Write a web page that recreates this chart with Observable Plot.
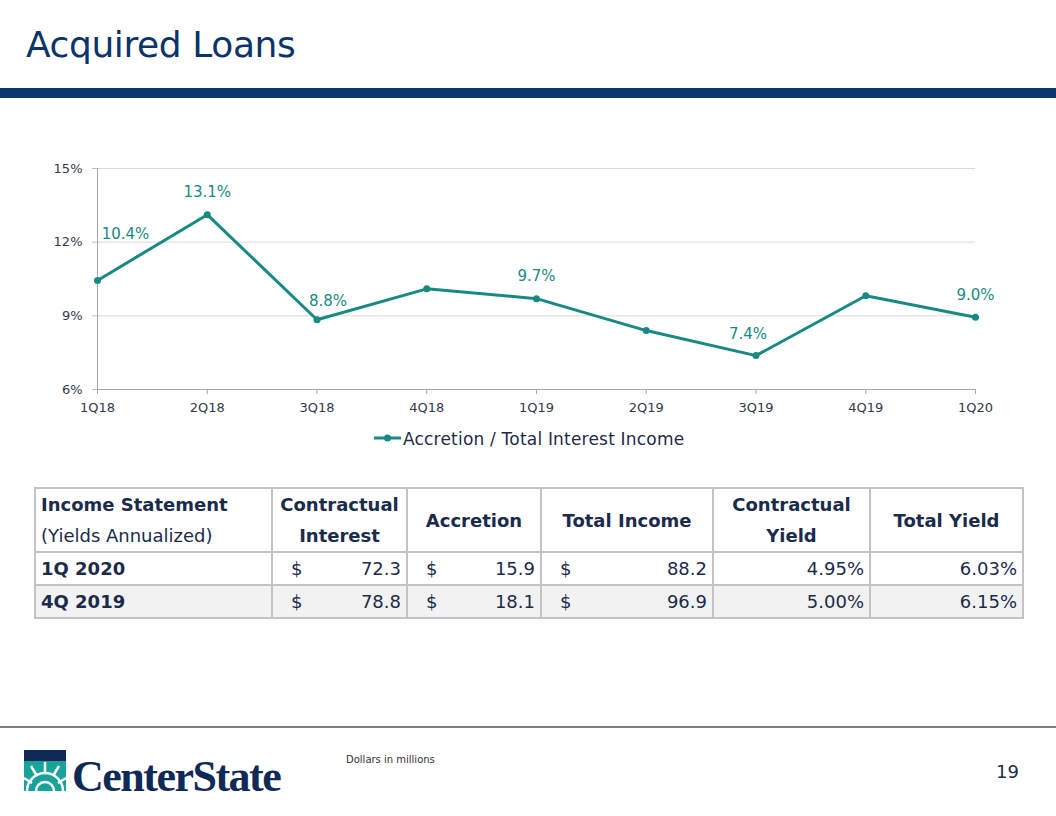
<!DOCTYPE html>
<html>
<head>
<meta charset="utf-8">
<script src="https://cdn.jsdelivr.net/npm/d3@7"></script>
<script src="https://cdn.jsdelivr.net/npm/@observablehq/plot@0.6"></script>
<style>
  html, body { margin:0; padding:0; background:#fff; }
  body { width:1056px; height:816px; position:relative; overflow:hidden; font-family:"DejaVu Sans", Verdana, sans-serif; }
  #title { position:absolute; left:26px; top:24px; font-size:36px; color:#0c3469; letter-spacing:-0.4px; }
  #bar { position:absolute; left:0; top:88px; width:1056px; height:10px; background:#0b3670; }
  #chart { position:absolute; left:0; top:150px; }
  #legend { position:absolute; left:374px; top:429px; font-size:17px; color:#1e2b48; white-space:nowrap; letter-spacing:0.2px; }
  #legend svg { vertical-align:middle; margin-right:2px; position:relative; top:-2px; }
  #tbl { position:absolute; left:34px; top:487px; border-collapse:collapse; table-layout:fixed; width:988px; font-size:18px; color:#1b2b4b; }
  #tbl td, #tbl th { border:2px solid #c3c3c3; padding:0 5px; overflow:hidden; white-space:nowrap; }
  #tbl th { font-weight:bold; height:62px; line-height:31px; }
  #tbl td { height:31px; }
  #tbl tr.alt td { background:#f2f2f2; }
  .money { display:flex; justify-content:space-between; padding-left:13px; }
  #rule { position:absolute; left:0; top:726px; width:1056px; height:2px; background:#808080; }
  #logo { position:absolute; left:24px; top:745px; }
  #note { position:absolute; left:346px; top:754px; font-size:10px; color:#333; }
  #page { position:absolute; left:996px; top:761px; font-size:18px; color:#1e2b48; }
</style>
</head>
<body>
<div id="title">Acquired Loans</div>
<div id="bar"></div>
<div id="chart"></div>
<div id="legend"></div>
<table id="tbl"></table>
<div id="rule"></div>
<div id="logo">
  <svg width="300" height="64">
    <g transform="translate(0,5)">
      <rect x="0" y="0" width="42" height="41" fill="#0f2a57"/>
      <rect x="0" y="11" width="42" height="30" fill="#17a39a"/>
      <path d="M3 41 A18 18 0 0 1 39 41" fill="none" stroke="#fff" stroke-width="2.5"/>
      <path d="M12 41 A9 9 0 0 1 30 41" fill="none" stroke="#fff" stroke-width="2.5"/>
      <path d="M21 23 L21 12 M13 26 L7 16 M29 26 L35 16 M8 33 L0 28 M34 33 L42 28" stroke="#fff" stroke-width="2.5"/>
      <text x="48" y="41" font-family="Liberation Serif, serif" font-weight="bold" font-size="44" fill="#0f2a57" letter-spacing="-1.5">CenterState</text>
    </g>
  </svg>
</div>
<div id="note">Dollars in millions</div>
<div id="page">19</div>
<script>
// ---- chart data ----
const quarters = ["1Q18","2Q18","3Q18","4Q18","1Q19","2Q19","3Q19","4Q19","1Q20"];
const accretionRatio = [10.44, 13.12, 8.84, 10.1, 9.7, 8.4, 7.38, 9.82, 8.94];
const pointLabels = ["10.4%","13.1%","8.8%",null,"9.7%",null,"7.4%",null,"9.0%"];
const yTicks = [6, 9, 12, 15];
const seriesName = "Accretion / Total Interest Income";

// ---- table data ----
const tableHeaders = ["Contractual\nInterest","Accretion","Total Income","Contractual\nYield","Total Yield"];
const periods = ["1Q 2020","4Q 2019"];
const contractualInterest = [72.3, 78.8];
const accretionIncome = [15.9, 18.1];
const totalIncome = [88.2, 96.9];
const contractualYield = [4.95, 5.00];
const totalYield = [6.03, 6.15];

const teal = "#178a82";
const rows = quarters.map((q, i) => ({q, v: accretionRatio[i], label: pointLabels[i]}));
const lab = (names) => rows.filter(d => names.includes(d.q));

const chart = Plot.plot({
  width: 1056, height: 280,
  marginLeft: 97, marginRight: 81, marginTop: 18, marginBottom: 41,
  style: {fontFamily: "DejaVu Sans, sans-serif", background: "transparent"},
  x: {type: "point", domain: quarters, padding: 0, round: false},
  y: {domain: [6, 15]},
  marks: [
    Plot.gridY(yTicks.slice(1), {stroke: "#d9d9d9", strokeOpacity: 1}),
    Plot.ruleX([quarters[0]], {stroke: "#a6a6a6"}),
    Plot.ruleY([6], {stroke: "#a6a6a6"}),
    Plot.axisY({ticks: yTicks, tickFormat: d => d + "%", tickSize: 5, tickPadding: 10, fontSize: 13, fill: "#333a4a", stroke: "#bfbfbf", label: null}),
    Plot.axisX({tickSize: 5, tickPadding: 8, fontSize: 13, fill: "#333a4a", stroke: "#a6a6a6", label: null}),
    Plot.line(rows, {x: "q", y: "v", stroke: teal, strokeWidth: 3}),
    Plot.dot(rows, {x: "q", y: "v", fill: teal, r: 3.5}),
    Plot.text(lab(["2Q18","1Q19","1Q20"]), {x: "q", y: "v", text: "label", dy: -22, fill: teal, fontSize: 15}),
    Plot.text(lab(["1Q18"]), {x: "q", y: "v", text: "label", dx: 28, dy: -46, fill: teal, fontSize: 15}),
    Plot.text(lab(["3Q18"]), {x: "q", y: "v", text: "label", dx: 11, dy: -19, fill: teal, fontSize: 15}),
    Plot.text(lab(["3Q19"]), {x: "q", y: "v", text: "label", dx: -8, dy: -21, fill: teal, fontSize: 15})
  ]
});
document.getElementById("chart").appendChild(chart);

document.getElementById("legend").innerHTML =
  `<svg width="27" height="10"><line x1="0" y1="5" x2="27" y2="5" stroke="${teal}" stroke-width="3"/><circle cx="13.5" cy="5" r="3.5" fill="${teal}"/></svg>${seriesName}`;

// ---- table ----
const colW = [237, 135, 134, 172, 157, 153];
const tbl = document.getElementById("tbl");
let html = "<colgroup>" + colW.map(w => `<col style="width:${w}px">`).join("") + "</colgroup><tr>";
html += `<th style="text-align:left;vertical-align:middle"><div>Income Statement</div><div style="font-weight:normal">(Yields Annualized)</div></th>`;
tableHeaders.forEach((h, i) => {
  html += `<th style="text-align:center">${h.replace("\n", "<br>")}</th>`;
});
html += "</tr>";
const money = v => `<div class="money"><span>$</span><span>${v.toFixed(1)}</span></div>`;
periods.forEach((p, i) => {
  html += `<tr class="${i % 2 ? "alt" : ""}"><td style="font-weight:bold">${p}</td>` +
    `<td>${money(contractualInterest[i])}</td><td>${money(accretionIncome[i])}</td><td>${money(totalIncome[i])}</td>` +
    `<td style="text-align:right">${contractualYield[i].toFixed(2)}%</td><td style="text-align:right">${totalYield[i].toFixed(2)}%</td></tr>`;
});
tbl.innerHTML = html;
</script>
</body>
</html>
